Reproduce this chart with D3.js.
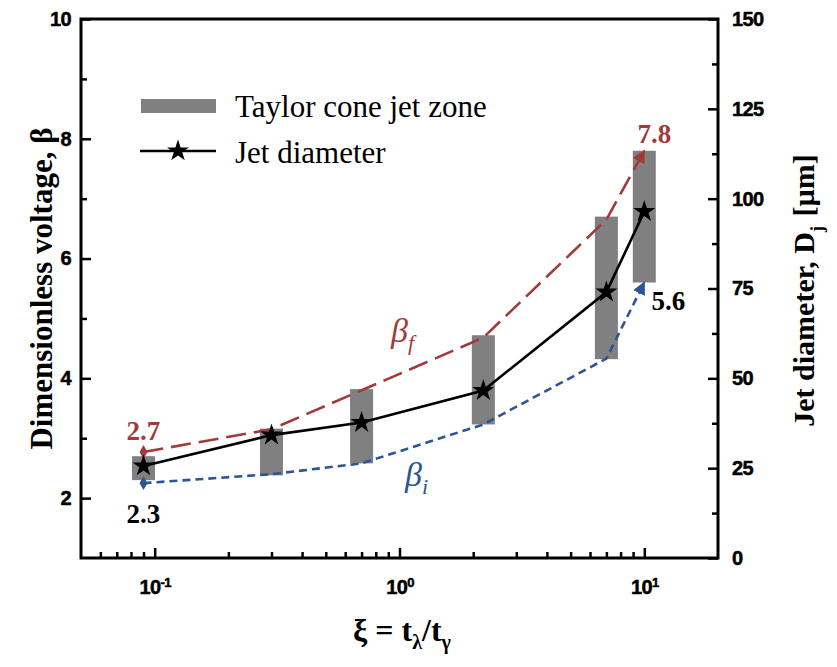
<!DOCTYPE html>
<html>
<head>
<meta charset="utf-8">
<script src="https://cdnjs.cloudflare.com/ajax/libs/d3/7.8.5/d3.min.js"></script>
<style>
  html, body { margin: 0; padding: 0; background: #fff; }
  svg { display: block; }
</style>
</head>
<body>
<svg id="chart" width="837" height="667"></svg>
<script>
// Dimensionless time ratio xi at each measured condition
const xi = [0.09, 0.3, 0.7, 2.2, 7, 10];
// Taylor cone jet zone: lower and upper dimensionless voltage
const zoneLow  = [2.3, 2.38, 2.58, 3.23, 4.32, 5.6];
const zoneHigh = [2.7, 3.16, 3.82, 4.72, 6.7, 7.8];
// Onset (beta_i) and final (beta_f) voltage curves
const betaF = [2.77, 3.15, 3.8, 4.68, 6.65, 7.8];
const betaI = [2.25, 2.4, 2.58, 3.23, 4.33, 5.6];
// Jet diameter in micrometres (right axis)
const jetDiameter = [25.6, 34.2, 37.7, 46.6, 74, 96.4];

const leftTicks = [2, 4, 6, 8, 10];
const leftMinor = [3, 5, 7, 9];
const rightTicks = [0, 25, 50, 75, 100, 125, 150];
const rightMinor = [12.5, 37.5, 62.5, 87.5, 112.5, 137.5];
const xMajor = [0.1, 1, 10];
const xMajorExp = ["-1", "0", "1"];

const svg = d3.select("#chart");
const m = { left: 81, right: 718, top: 19, bottom: 558 };

const x = d3.scaleLog().domain([0.05, 20]).range([m.left, m.right]);
const y = d3.scaleLinear().domain([1, 10]).range([m.bottom, m.top]);
const y2 = d3.scaleLinear().domain([0, 150]).range([m.bottom, m.top]);

const red = "#a33a3a";
const blue = "#2b5595";
const sans = "'Liberation Sans', Arial, sans-serif";
const serif = "'Liberation Serif', 'Times New Roman', serif";

// arrowheads for the dashed curves
const defs = svg.append("defs");
[["arrRed", red], ["arrBlue", blue]].forEach(([id, c]) => {
  defs.append("marker")
    .attr("id", id).attr("viewBox", "0 0 10 10")
    .attr("refX", 9).attr("refY", 5)
    .attr("markerWidth", 5).attr("markerHeight", 5)
    .attr("markerUnits", "strokeWidth")
    .attr("orient", "auto")
    .append("path").attr("d", "M0,0 L10,5 L0,10 Z").attr("fill", c);
});

// Taylor cone jet zone bars
const barW = 23;
svg.append("g").selectAll("rect").data(xi).join("rect")
  .attr("x", (d) => x(d) - barW / 2)
  .attr("width", barW)
  .attr("y", (d, i) => y(zoneHigh[i]))
  .attr("height", (d, i) => y(zoneLow[i]) - y(zoneHigh[i]))
  .attr("fill", "#808080");

// beta_f and beta_i curves
const lineB = d3.line().x((d, i) => x(xi[i])).y((d) => y(d));
svg.append("path").datum(betaF).attr("d", lineB)
  .attr("fill", "none").attr("stroke", red).attr("stroke-width", 2.6)
  .attr("stroke-dasharray", "20,8").attr("marker-end", "url(#arrRed)");
svg.append("path").datum(betaI).attr("d", lineB)
  .attr("fill", "none").attr("stroke", blue).attr("stroke-width", 2.6)
  .attr("stroke-dasharray", "8,5").attr("marker-end", "url(#arrBlue)");

// start diamonds
const diamond = d3.symbol().type(d3.symbolDiamond).size(55);
svg.append("path").attr("d", diamond)
  .attr("transform", `translate(${x(xi[0])},${y(betaF[0])})`).attr("fill", red);
svg.append("path").attr("d", diamond)
  .attr("transform", `translate(${x(xi[0])},${y(betaI[0])})`).attr("fill", blue);

// jet diameter line with stars
const lineD = d3.line().x((d, i) => x(xi[i])).y((d) => y2(d));
svg.append("path").datum(jetDiameter).attr("d", lineD)
  .attr("fill", "none").attr("stroke", "#000").attr("stroke-width", 2.6);
const star = d3.symbol().type(d3.symbolStar).size(150);
svg.append("g").selectAll("path").data(jetDiameter).join("path")
  .attr("d", star)
  .attr("transform", (d, i) => `translate(${x(xi[i])},${y2(d)})`)
  .attr("fill", "#000");

// axes
const axisStyle = (g) => {
  g.select(".domain").remove();
  g.selectAll("line").attr("stroke", "#000").attr("stroke-width", 2.5);
  g.selectAll("text").attr("font-family", sans).attr("font-weight", "bold")
    .attr("font-size", 20).attr("letter-spacing", -0.6).attr("fill", "#000")
    .attr("stroke", "#000").attr("stroke-width", 0.5);
};

svg.append("g").attr("transform", `translate(${m.left},0)`)
  .call(d3.axisLeft(y).tickValues(leftTicks).tickSize(-10).tickPadding(10))
  .call(axisStyle);
svg.append("g").attr("transform", `translate(${m.left},0)`)
  .call(d3.axisLeft(y).tickValues(leftMinor).tickSize(-6).tickFormat(""))
  .call(axisStyle);

svg.append("g").attr("transform", `translate(${m.right},0)`)
  .call(d3.axisRight(y2).tickValues(rightTicks).tickSize(-10).tickPadding(14))
  .call(axisStyle);
svg.append("g").attr("transform", `translate(${m.right},0)`)
  .call(d3.axisRight(y2).tickValues(rightMinor).tickSize(-6).tickFormat(""))
  .call(axisStyle);

const xMinor = [];
[0.01, 0.1, 1].forEach((b) => { for (let k = 2; k <= 9; k++) xMinor.push(b * k); });
const xMinorIn = xMinor.filter((v) => v > 0.05 && v < 20);

const gx = svg.append("g").attr("transform", `translate(0,${m.bottom})`)
  .call(d3.axisBottom(x).tickValues(xMajor).tickSize(-10).tickPadding(22).tickFormat(() => "10"))
  .call(axisStyle);
gx.selectAll("text").each(function (d, i) {
  d3.select(this).append("tspan")
    .attr("font-size", 13).attr("dy", -7).text(xMajorExp[i]);
});
svg.append("g").attr("transform", `translate(0,${m.bottom})`)
  .call(d3.axisBottom(x).tickValues(xMinorIn).tickSize(-6).tickFormat(""))
  .call(axisStyle);

// frame
svg.append("rect")
  .attr("x", m.left).attr("y", m.top)
  .attr("width", m.right - m.left).attr("height", m.bottom - m.top)
  .attr("fill", "none").attr("stroke", "#000").attr("stroke-width", 3);

// axis titles
svg.append("text")
  .attr("transform", `translate(52,${(m.top + m.bottom) / 2}) rotate(-90)`)
  .attr("text-anchor", "middle")
  .attr("font-family", serif).attr("font-weight", "bold").attr("font-size", 31)
  .text("Dimensionless voltage, β");

const rt = svg.append("text")
  .attr("transform", `translate(814,${(m.top + m.bottom) / 2 + 2}) rotate(-90)`)
  .attr("text-anchor", "middle")
  .attr("font-family", serif).attr("font-weight", "bold").attr("font-size", 30);
rt.append("tspan").text("Jet diameter, D");
rt.append("tspan").attr("font-size", 18).attr("dy", 9).text("j");
rt.append("tspan").attr("dy", -9).attr("dx", 2).text(" [µm]");

const xt = svg.append("text")
  .attr("x", 402).attr("y", 641)
  .attr("text-anchor", "middle")
  .attr("font-family", serif).attr("font-weight", "bold").attr("font-size", 32);
xt.append("tspan").text("ξ = t");
xt.append("tspan").attr("font-size", 20).attr("dy", 8).text("λ");
xt.append("tspan").attr("dy", -8).text("/t");
xt.append("tspan").attr("font-size", 20).attr("dy", 8).text("γ");

// legend
svg.append("rect").attr("x", 141).attr("y", 99).attr("width", 75).attr("height", 14)
  .attr("fill", "#808080");
svg.append("text").attr("x", 235).attr("y", 117)
  .attr("font-family", serif).attr("font-size", 31).text("Taylor cone jet zone");
svg.append("line").attr("x1", 140).attr("x2", 216).attr("y1", 151).attr("y2", 151)
  .attr("stroke", "#000").attr("stroke-width", 2.6);
svg.append("path").attr("d", star).attr("transform", "translate(178,151)").attr("fill", "#000");
svg.append("text").attr("x", 235).attr("y", 163)
  .attr("font-family", serif).attr("font-size", 31).text("Jet diameter");

// value annotations
const ann = (tx, ty, txt, c) => svg.append("text").attr("x", tx).attr("y", ty)
  .attr("text-anchor", "middle")
  .attr("font-family", serif).attr("font-weight", "bold").attr("font-size", 27)
  .attr("fill", c).text(txt);
ann(x(xi[0]), y(zoneHigh[0]) - 16, zoneHigh[0].toFixed(1), red);
ann(x(xi[0]), y(zoneLow[0]) + 43, zoneLow[0].toFixed(1), "#000");
ann(x(xi[5]) + 10, y(zoneHigh[5]) - 8, zoneHigh[5].toFixed(1), red);
ann(x(xi[5]) + 24, y(zoneLow[5]) + 27, zoneLow[5].toFixed(1), "#000");

// curve names
const bf = svg.append("text").attr("x", 391).attr("y", 342)
  .attr("font-family", serif).attr("font-style", "italic").attr("font-size", 34).attr("fill", red);
bf.append("tspan").text("β");
bf.append("tspan").attr("font-size", 22).attr("dy", 8).text("f");
const bi = svg.append("text").attr("x", 405).attr("y", 486)
  .attr("font-family", serif).attr("font-style", "italic").attr("font-size", 34).attr("fill", blue);
bi.append("tspan").text("β");
bi.append("tspan").attr("font-size", 22).attr("dy", 8).text("i");
</script>
</body>
</html>
